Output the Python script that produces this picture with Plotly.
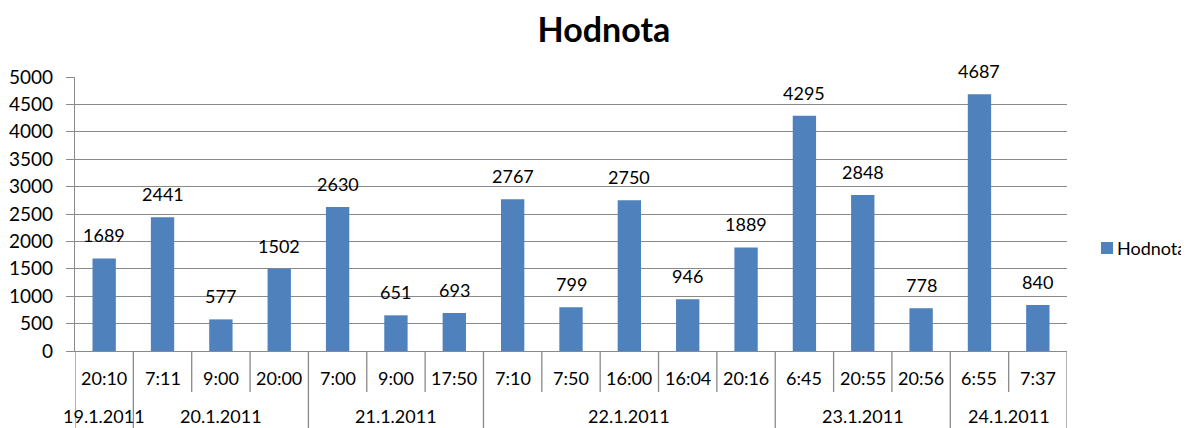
import plotly.graph_objects as go

dates = ["19.1.2011", "20.1.2011", "20.1.2011", "20.1.2011",
         "21.1.2011", "21.1.2011", "21.1.2011",
         "22.1.2011", "22.1.2011", "22.1.2011", "22.1.2011", "22.1.2011",
         "23.1.2011", "23.1.2011", "23.1.2011",
         "24.1.2011", "24.1.2011"]
times = ["20:10", "7:11", "9:00", "20:00", "7:00", "9:00", "17:50",
         "7:10", "7:50", "16:00", "16:04", "20:16",
         "6:45", "20:55", "20:56", "6:55", "7:37"]
values = [1689, 2441, 577, 1502, 2630, 651, 693,
          2767, 799, 2750, 946, 1889,
          4295, 2848, 778, 4687, 840]
series_name = "Hodnota"
y_ticks = list(range(0, 5001, 500))

FONT = "Lato"
BAR = "#4F81BD"
GRID = "#8A8A8A"
FS = 18
idx = list(range(len(values)))

fig = go.Figure()
fig.add_trace(go.Bar(x=idx, y=values, name=series_name, marker_color=BAR,
                     marker_line_width=0, showlegend=False))

ann = []
for i, v in zip(idx, values):
    ann.append(dict(x=i, y=v, text=str(v), showarrow=False, xref="x", yref="y",
                    yanchor="bottom", yshift=10, font=dict(family=FONT, size=FS, color="#000")))
    ann.append(dict(x=i, y=0, text=times[i], showarrow=False, xref="x", yref="paper",
                    yanchor="middle", yshift=-27, font=dict(family=FONT, size=FS, color="#000")))

# group the date labels
groups = []
start = 0
for i in range(1, len(dates) + 1):
    if i == len(dates) or dates[i] != dates[start]:
        groups.append((start, i - 1, dates[start]))
        start = i
for s, e, d in groups:
    ann.append(dict(x=(s + e) / 2, y=0, text=d, showarrow=False, xref="x", yref="paper",
                    yanchor="middle", yshift=-65, font=dict(family=FONT, size=FS, color="#000")))

shapes = []
group_bounds = set([s - 0.5 for s, e, d in groups] + [groups[-1][1] + 0.5])
for i in range(len(values) + 1):
    b = i - 0.5
    length = -77 if b in group_bounds else -41
    shapes.append(dict(type="line", xref="x", yref="paper", ysizemode="pixel", yanchor=0,
                       x0=b, x1=b, y0=0, y1=length, line=dict(color=GRID, width=1.3)))

# legend (drawn manually to match the tight symbol/text spacing)
LEG_Y = (351 - 248) / 274
ann.append(dict(x=1, y=LEG_Y, xref="paper", yref="paper", xanchor="left", yanchor="middle",
                xshift=48, text=series_name, showarrow=False,
                font=dict(family=FONT, size=18, color="#000")))
shapes.append(dict(type="rect", xref="paper", yref="paper", xsizemode="pixel", ysizemode="pixel",
                   xanchor=1, yanchor=LEG_Y, x0=34, x1=46, y0=-6, y1=6,
                   fillcolor=BAR, line=dict(width=0)))

# page body has an 8px margin, so the figure is sized/offset to compensate
fig.update_layout(
    width=1181, height=420,
    margin=dict(l=67, r=122, t=69, b=77, autoexpand=False),
    paper_bgcolor="white", plot_bgcolor="white",
    title=dict(text="<b>Hodnota</b>", x=(604 - 8) / 1181, xanchor="center",
               y=1 - 22 / 420, yanchor="middle",
               font=dict(family=FONT, size=34, color="#000")),
    bargap=0.6,
    showlegend=False,
    xaxis=dict(range=[-0.5, len(values) - 0.5], showticklabels=False, showgrid=False,
               zeroline=False, showline=True, linecolor=GRID, linewidth=1.3, ticks=""),
    yaxis=dict(range=[0, 5000], tickvals=y_ticks, showgrid=True, gridcolor=GRID, gridwidth=1,
               zeroline=False, showline=True, linecolor=GRID, linewidth=1.3,
               ticks="outside", ticklen=8, tickcolor=GRID, ticklabelstandoff=9,
               tickfont=dict(family=FONT, size=19, color="#000")),
    annotations=ann, shapes=shapes,
)
fig.write_html("out.html")
